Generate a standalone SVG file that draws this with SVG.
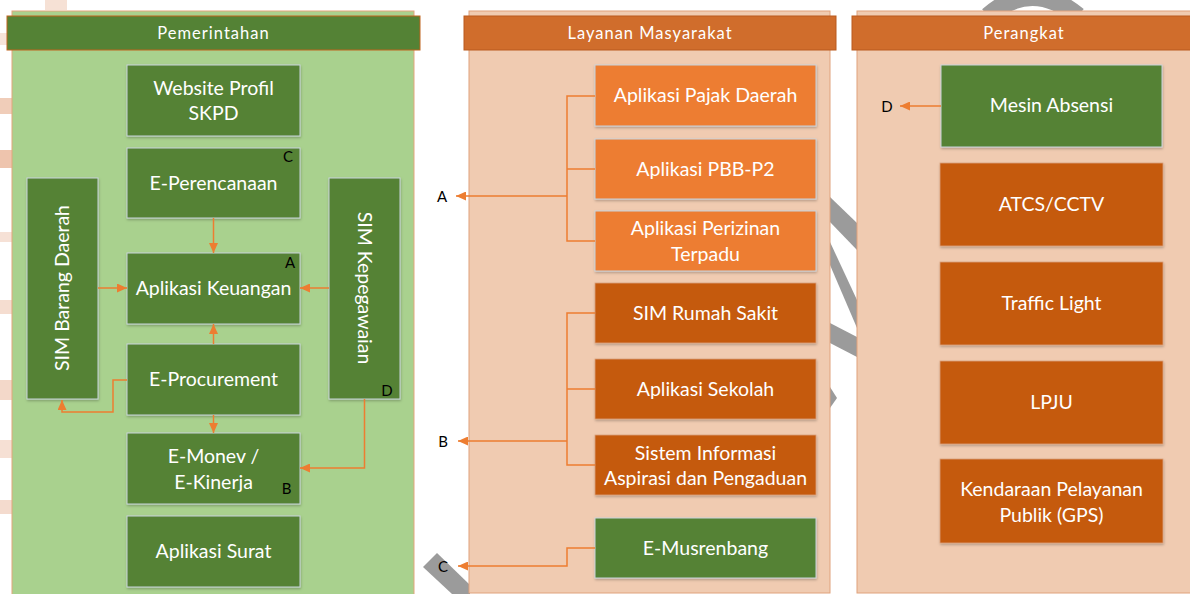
<svg xmlns="http://www.w3.org/2000/svg" width="1190" height="594" viewBox="0 0 1190 594">
<defs>
<style>
.pg{fill:#A9D18E;stroke:#E3A57C;stroke-width:1}
.pp{fill:#F0CBB1;stroke:#E0A27C;stroke-width:1}
.hg{fill:#548235;stroke:#C0641F;stroke-width:1}
.ho{fill:#D06D2C;stroke:#B95B1E;stroke-width:1}
.ng{fill:#548235;stroke:#C9D3DC;stroke-width:1;filter:url(#sh)}
.nl{fill:#ED7D31;stroke:#C9D3DC;stroke-width:1;filter:url(#sh)}
.nd{fill:#C55A11;stroke:#D9A07A;stroke-width:0.8;filter:url(#sh)}
.ht{font-family:Lato,"Liberation Sans",sans-serif;font-size:16.5px;fill:#fff;text-anchor:middle;letter-spacing:1px}
.t{font-family:Lato,"Liberation Sans",sans-serif;font-size:19.5px;fill:#fff;text-anchor:middle}
.lb{font-family:Lato,"Liberation Sans",sans-serif;font-size:15px;fill:#000;text-anchor:middle}
.c{fill:none;stroke:#ED7D31;stroke-width:1.5}
.bg{fill:#9B9B9B}
</style>
<filter id="sh" x="-10%" y="-10%" width="120%" height="130%">
<feDropShadow dx="0.5" dy="1.5" stdDeviation="1.2" flood-color="#000" flood-opacity="0.25"/>
</filter>
<marker id="ah" viewBox="0 0 10 10" refX="10" refY="5" markerWidth="10" markerHeight="9" markerUnits="userSpaceOnUse" orient="auto" preserveAspectRatio="none">
<path d="M0,0 L10,5 L0,10 z" fill="#ED7D31"/>
</marker>
</defs>
<rect width="1190" height="594" fill="#fff"/>
<g id="background-fragments">
<rect x="0" y="33" width="12" height="12" fill="#F7E4D9"/>
<rect x="0" y="98" width="12" height="16" fill="#F0CDB9"/>
<rect x="0" y="150" width="12" height="18" fill="#EEC4AD"/>
<rect x="0" y="232" width="12" height="10" fill="#F6E1D6"/>
<rect x="0" y="300" width="12" height="14" fill="#F5DDD0"/>
<rect x="0" y="380" width="12" height="20" fill="#F3D8C9"/>
<rect x="0" y="440" width="12" height="18" fill="#F6E0D4"/>
<rect x="0" y="500" width="12" height="14" fill="#F4DBCE"/>
<rect x="45" y="0" width="22" height="10" fill="#F6E1D5"/>
<polygon class="bg" points="830,197 857,223 857,250 830,222"/>
<polygon class="bg" points="830,242 857,300 857,328 830,265"/>
<polygon class="bg" points="830,323 857,337 857,357 830,343"/>
<polygon class="bg" points="830,387 837,398 830,408"/>
<polygon class="bg" points="423,567 437,553 470,585 470,594 452,594"/>
<path d="M988 16 Q1032 -22 1078 16" fill="none" stroke="#9B9B9B" stroke-width="18"/>
</g>
<g id="panel-pemerintahan">
<rect class="pg" x="12" y="11" width="402" height="590"/>
<rect class="hg" x="7" y="16" width="413" height="34"/>
<text class="ht" x="213.5" y="39">Pemerintahan</text>
</g>
<g id="panel-layanan">
<rect class="pp" x="469" y="11" width="361" height="582"/>
<rect class="ho" x="464" y="16" width="372" height="34"/>
<text class="ht" x="650" y="39">Layanan Masyarakat</text>
</g>
<g id="panel-perangkat">
<rect class="pp" x="857" y="11" width="345" height="582"/>
<rect class="ho" x="852" y="16" width="350" height="34"/>
<text class="ht" x="1024" y="39">Perangkat</text>
</g>
<g id="website-profil">
<rect class="ng" x="127" y="65" width="173" height="71"/>
<text class="t" x="213.5" y="95">Website Profil</text>
<text class="t" x="213.5" y="120">SKPD</text>
</g>
<g id="e-perencanaan">
<rect class="ng" x="127" y="148" width="173" height="70"/>
<text class="t" x="213.5" y="190">E-Perencanaan</text>
<text class="lb" x="288" y="162">C</text>
</g>
<g id="aplikasi-keuangan">
<rect class="ng" x="127" y="253" width="173" height="71"/>
<text class="t" x="213.5" y="295">Aplikasi Keuangan</text>
<text class="lb" x="290" y="268">A</text>
</g>
<g id="e-procurement">
<rect class="ng" x="127" y="344" width="173" height="71"/>
<text class="t" x="213.5" y="386">E-Procurement</text>
</g>
<g id="e-monev">
<rect class="ng" x="127" y="433" width="173" height="71"/>
<text class="t" x="213.5" y="463">E-Monev /</text>
<text class="t" x="213.5" y="489">E-Kinerja</text>
<text class="lb" x="286.5" y="494">B</text>
</g>
<g id="aplikasi-surat">
<rect class="ng" x="127" y="516" width="173" height="71"/>
<text class="t" x="213.5" y="558">Aplikasi Surat</text>
</g>
<g id="sim-barang-daerah">
<rect class="ng" x="27" y="178" width="71" height="221"/>
<text class="t" transform="translate(69,288) rotate(-90)" x="0" y="0">SIM Barang Daerah</text>
</g>
<g id="sim-kepegawaian">
<rect class="ng" x="329" y="178" width="71" height="221"/>
<text class="t" transform="translate(358,288) rotate(90)" x="0" y="0">SIM Kepegawaian</text>
<text class="lb" x="387" y="396">D</text>
</g>
<g id="aplikasi-pajak-daerah">
<rect class="nl" x="595" y="65" width="221" height="61"/>
<text class="t" x="705.5" y="102">Aplikasi Pajak Daerah</text>
</g>
<g id="aplikasi-pbb-p2">
<rect class="nl" x="595" y="139" width="221" height="60"/>
<text class="t" x="705.5" y="176">Aplikasi PBB-P2</text>
</g>
<g id="aplikasi-perizinan">
<rect class="nl" x="595" y="211" width="221" height="60"/>
<text class="t" x="705.5" y="235">Aplikasi Perizinan</text>
<text class="t" x="705.5" y="261">Terpadu</text>
</g>
<g id="sim-rumah-sakit">
<rect class="nd" x="595" y="283" width="221" height="60"/>
<text class="t" x="705.5" y="320">SIM Rumah Sakit</text>
</g>
<g id="aplikasi-sekolah">
<rect class="nd" x="595" y="359" width="221" height="60"/>
<text class="t" x="705.5" y="396">Aplikasi Sekolah</text>
</g>
<g id="sistem-informasi">
<rect class="nd" x="595" y="435" width="221" height="60"/>
<text class="t" x="705.5" y="460">Sistem Informasi</text>
<text class="t" x="705.5" y="485">Aspirasi dan Pengaduan</text>
</g>
<g id="e-musrenbang">
<rect class="ng" x="595" y="518" width="221" height="60"/>
<text class="t" x="705.5" y="555">E-Musrenbang</text>
</g>
<g id="mesin-absensi">
<rect class="ng" x="941" y="65" width="221" height="82"/>
<text class="t" x="1051.5" y="112">Mesin Absensi</text>
</g>
<g id="atcs-cctv">
<rect class="nd" x="940" y="163" width="223" height="83"/>
<text class="t" x="1051.5" y="211">ATCS/CCTV</text>
</g>
<g id="traffic-light">
<rect class="nd" x="940" y="262" width="223" height="83"/>
<text class="t" x="1051.5" y="310">Traffic Light</text>
</g>
<g id="lpju">
<rect class="nd" x="940" y="361" width="223" height="83"/>
<text class="t" x="1051.5" y="409">LPJU</text>
</g>
<g id="kendaraan">
<rect class="nd" x="940" y="459" width="223" height="84"/>
<text class="t" x="1051.5" y="496">Kendaraan Pelayanan</text>
<text class="t" x="1051.5" y="522">Publik (GPS)</text>
</g>
<g id="connectors">
<path class="c" d="M213.5,218 V253" marker-end="url(#ah)"/>
<path class="c" d="M98,288 H127" marker-end="url(#ah)"/>
<path class="c" d="M329,288 H300" marker-end="url(#ah)"/>
<path class="c" d="M213.5,344 V324" marker-end="url(#ah)"/>
<path class="c" d="M127,380 H113 V412 H62 V400" marker-end="url(#ah)"/>
<path class="c" d="M213.5,415 V433" marker-end="url(#ah)"/>
<path class="c" d="M364.5,399 V468 H300" marker-end="url(#ah)"/>
<path class="c" d="M595,96 H567 V241 H595 M595,169 H567"/>
<path class="c" d="M567,196 H456" marker-end="url(#ah)"/>
<path class="c" d="M595,313 H567 V465 H595 M595,389 H567"/>
<path class="c" d="M567,441 H458" marker-end="url(#ah)"/>
<path class="c" d="M595,548 H567 V566 H458" marker-end="url(#ah)"/>
<path class="c" d="M941,106 H900" marker-end="url(#ah)"/>
</g>
<g id="labels">
<text class="lb" x="442" y="202">A</text>
<text class="lb" x="443" y="447">B</text>
<text class="lb" x="443" y="572">C</text>
<text class="lb" x="887" y="112">D</text>
</g>
</svg>
